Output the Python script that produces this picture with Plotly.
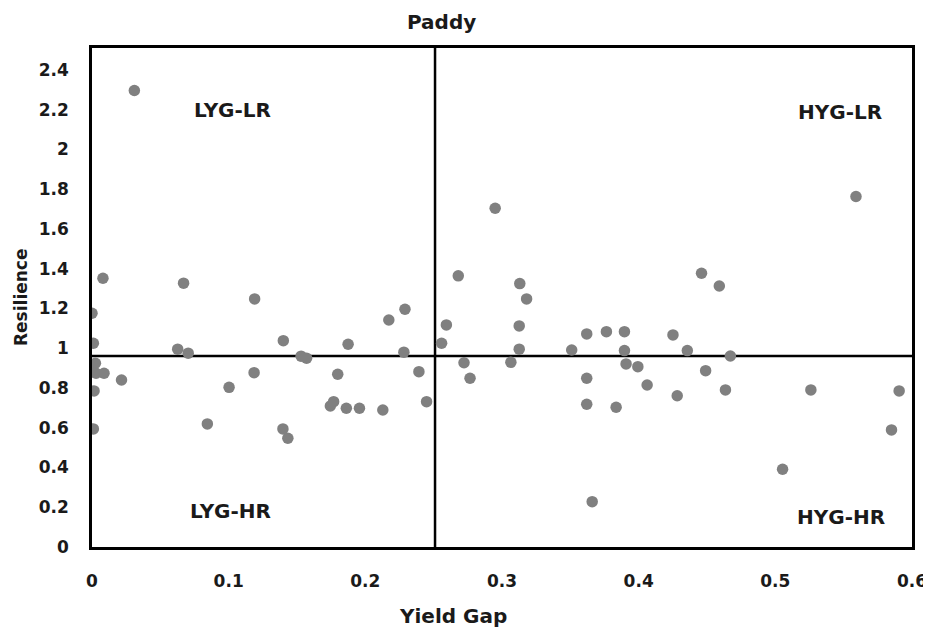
import plotly.graph_objects as go

yield_gap = [
    0.031, 0.008, 0.067, 0.119, 0.000, 0.001, 0.0025, 0.000, 0.003, 0.0088, 0.0216, 0.0015, 0.001,
    0.0627, 0.0704, 0.1003, 0.0844, 0.1186, 0.140, 0.1397, 0.1433, 0.153, 0.157,
    0.1874, 0.1798, 0.1744, 0.1768, 0.1861, 0.1957, 0.2128, 0.2172, 0.229, 0.2282, 0.2392, 0.2448,
    0.2593, 0.2558, 0.268, 0.2722, 0.2766, 0.295, 0.313, 0.318, 0.3126, 0.3126, 0.3065,
    0.351, 0.362, 0.3764, 0.362, 0.362, 0.3835, 0.366, 0.3896, 0.3896, 0.3908, 0.3994, 0.4062,
    0.4251, 0.4356, 0.4282, 0.446, 0.449, 0.459, 0.4635, 0.4671, 0.5053, 0.526, 0.559, 0.585, 0.5906,
]
resilience = [
    2.296, 1.352, 1.327, 1.248, 1.176, 1.025, 0.924, 0.880, 0.874, 0.874, 0.840, 0.785, 0.594,
    0.995, 0.975, 0.803, 0.619, 0.877, 1.038, 0.594, 0.547, 0.960, 0.950,
    1.020, 0.869, 0.709, 0.731, 0.698, 0.698, 0.689, 1.142, 1.196, 0.980, 0.882, 0.731,
    1.117, 1.025, 1.364, 0.927, 0.849, 1.704, 1.325, 1.248, 1.112, 0.995, 0.929,
    0.991, 1.072, 1.083, 0.849, 0.718, 0.703, 0.228, 1.083, 0.988, 0.921, 0.907, 0.815,
    1.067, 0.988, 0.761, 1.377, 0.887, 1.313, 0.790, 0.961, 0.391, 0.790, 1.763, 0.589, 0.785,
]

x_ticks = [0, 0.1, 0.2, 0.3, 0.4, 0.5, 0.6]
x_tick_labels = ["0", "0.1", "0.2", "0.3", "0.4", "0.5", "0.6"]
y_ticks = [0, 0.2, 0.4, 0.6, 0.8, 1.0, 1.2, 1.4, 1.6, 1.8, 2.0, 2.2, 2.4]
y_tick_labels = ["0", "0.2", "0.4", "0.6", "0.8", "1", "1.2", "1.4", "1.6", "1.8", "2", "2.2", "2.4"]

yield_gap_threshold = 0.251
resilience_threshold = 0.961

quadrant_labels = ["LYG-LR", "HYG-LR", "LYG-HR", "HYG-HR"]
quadrant_x = [0.103, 0.547, 0.101, 0.548]
quadrant_y = [2.20, 2.19, 0.18, 0.15]

FONT = "DejaVu Sans"
TXT = "#1a1a1a"

# the page body adds an 8px offset, so the figure is sized to fit the remaining window
OFF = 8
W, H = 931 - OFF, 635 - OFF
ML, MR, MT = 92 - OFF, 19, 48 - OFF
MB = H - (547 - OFF)
plot_w = W - ML - MR
plot_h = H - MT - MB


def px_to_paper_x(px):
    return (px - OFF - ML) / plot_w


def px_to_paper_y(py):
    return (H - MB - (py - OFF)) / plot_h


fig = go.Figure()
fig.add_trace(go.Scatter(
    x=yield_gap, y=resilience, mode="markers",
    marker=dict(size=11.5, color="#808080", line=dict(width=0)),
    showlegend=False, hoverinfo="x+y",
))

fig.add_shape(type="line", xref="x", yref="paper", x0=yield_gap_threshold, x1=yield_gap_threshold,
              y0=0, y1=1, line=dict(color="black", width=2.5), layer="below")
fig.add_shape(type="line", xref="paper", yref="y", x0=0, x1=1,
              y0=resilience_threshold, y1=resilience_threshold,
              line=dict(color="black", width=2.5), layer="below")

for lab, qx, qy in zip(quadrant_labels, quadrant_x, quadrant_y):
    fig.add_annotation(x=qx, y=qy, xref="x", yref="y", text=lab, showarrow=False,
                       xanchor="center", yanchor="middle",
                       font=dict(family=FONT, size=20, color=TXT, weight="bold"))

fig.add_annotation(x=px_to_paper_x(441), y=px_to_paper_y(22), xref="paper", yref="paper",
                   text="Paddy", showarrow=False, xanchor="center", yanchor="middle",
                   font=dict(family=FONT, size=20, color=TXT, weight="bold"))
fig.add_annotation(x=px_to_paper_x(453), y=px_to_paper_y(616), xref="paper", yref="paper",
                   text="Yield Gap", showarrow=False, xanchor="center", yanchor="middle",
                   font=dict(family=FONT, size=20, color=TXT, weight="bold"))
fig.add_annotation(x=px_to_paper_x(21), y=px_to_paper_y(298), xref="paper", yref="paper",
                   text="Resilience", showarrow=False, textangle=-90,
                   xanchor="center", yanchor="middle",
                   font=dict(family=FONT, size=17, color=TXT, weight="bold"))

fig.update_layout(
    width=W, height=H,
    margin=dict(l=ML, r=MR, t=MT, b=MB, autoexpand=False),
    paper_bgcolor="white", plot_bgcolor="white",
    font=dict(family=FONT, size=17, color=TXT),
    xaxis=dict(range=[0, 0.6], tickvals=x_ticks, ticktext=x_tick_labels,
               showgrid=False, zeroline=False, showline=True, mirror=True, automargin=False,
               linecolor="black", linewidth=2.5, ticks="", ticklabelstandoff=17,
               ticklabeloverflow="allow",
               tickfont=dict(family=FONT, size=17, color=TXT, weight="bold")),
    yaxis=dict(range=[0, 2.51], tickvals=y_ticks, ticktext=y_tick_labels,
               showgrid=False, zeroline=False, showline=True, mirror=True, automargin=False,
               linecolor="black", linewidth=2.5, ticks="", ticklabelstandoff=17,
               tickfont=dict(family=FONT, size=17, color=TXT, weight="bold")),
)

fig.write_html("out.html")
